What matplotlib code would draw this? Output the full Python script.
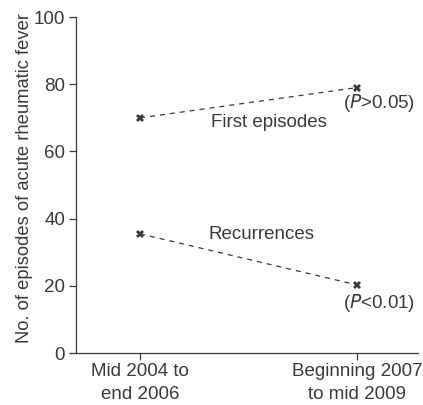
import matplotlib
matplotlib.use("Agg")
import matplotlib.pyplot as plt

periods = ["Mid 2004 to\nend 2006", "Beginning 2007\nto mid 2009"]
first_episodes = [70, 79]
recurrences = [35.5, 20.3]
yticks = [0, 20, 40, 60, 80, 100]

plt.rcParams['font.family'] = ['Liberation Sans', 'DejaVu Sans']
col = '#3a3a3a'
fs = 13.5
fig = plt.figure(figsize=(4.23, 4.05), dpi=100)
ax = fig.add_axes([0.18, 0.128, 0.808, 0.83])
x = [0, 1]
for ys in (first_episodes, recurrences):
    ax.plot(x, ys, linestyle=(0, (4, 4)), color=col, linewidth=0.9,
            marker='X', markersize=5.5, markeredgewidth=0, markerfacecolor=col)

ax.set_xlim(-0.295, 1.281)
ax.set_ylim(0, 100)
ax.set_yticks(yticks)
ax.set_xticks(x)
ax.set_xticklabels(periods, fontsize=fs, color=col, linespacing=1.45)
ax.tick_params(axis='y', labelsize=13.5, colors=col, length=5, width=0.9, pad=3)
ax.tick_params(axis='x', length=5, width=0.9, colors=col, pad=2)
for lbl in ax.get_yticklabels():
    lbl.set_color(col)
for s in ('top', 'right'):
    ax.spines[s].set_visible(False)
for s in ('left', 'bottom'):
    ax.spines[s].set_color(col)
    ax.spines[s].set_linewidth(0.9)
ax.set_ylabel("No. of episodes of acute rheumatic fever", fontsize=13.2, color=col)
ax.yaxis.set_label_coords(-0.126, 0.522)

ax.text(0.594, 68.5, "First episodes", fontsize=fs, color=col, ha='center', va='center')
ax.text(0.935, 74.4, "($\\it{P}$>0.05)", fontsize=fs, color=col, ha='left', va='center')
ax.text(0.562, 35.4, "Recurrences", fontsize=fs, color=col, ha='center', va='center')
ax.text(0.935, 14.9, "($\\it{P}$<0.01)", fontsize=fs, color=col, ha='left', va='center')

fig.savefig("out.png", dpi=100)
